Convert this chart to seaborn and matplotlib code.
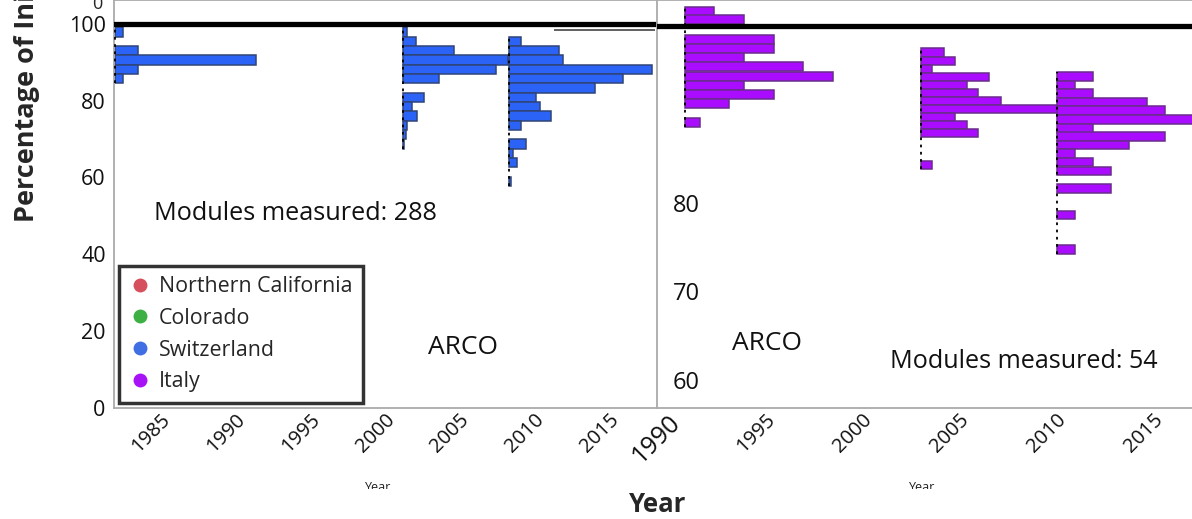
import numpy as np
import pandas as pd
import matplotlib
matplotlib.use("Agg")
import matplotlib.pyplot as plt
import seaborn as sns
from matplotlib.lines import Line2D
from matplotlib.transforms import Bbox, TransformedBbox

# ---------------- data ----------------
# Switzerland (left panel): horizontal histograms placed at measurement year
sw_years = [1982.0, 2001.2, 2008.3]
sw_g1_pct = [97.89, 93.03, 90.60, 88.17, 85.74]
sw_g1_cnt = [1, 3, 19, 3, 1]
sw_g2_pct = [97.89, 95.46, 93.03, 90.60, 88.17, 85.74, 80.88, 78.45, 76.02, 73.59, 71.16, 68.73]
sw_g2_cnt = [3, 8, 31, 64, 57, 22, 13, 6, 9, 3, 2, 1]
sw_g3_pct = [95.46, 93.03, 90.60, 88.17, 85.74, 83.31, 80.88, 78.45, 76.02, 73.59, 68.73, 66.30, 63.87, 59.01]
sw_g3_cnt = [6, 24, 26, 68, 54, 41, 13, 15, 20, 6, 8, 2, 4, 1]

# Italy (right panel)
it_years = [1990.86, 2003.04, 2010.04]
it_g1_pct = [101.67, 100.69, 98.50, 97.43, 96.40, 95.38, 94.31, 93.27, 92.25, 91.22, 89.13]
it_g1_cnt = [2, 4, 6, 6, 4, 8, 10, 4, 6, 3, 1]
it_g2_pct = [97.01, 96.06, 95.16, 94.25, 93.33, 92.45, 91.54, 90.60, 89.72, 88.83, 87.89, 84.29]
it_g2_cnt = [2, 3, 1, 6, 4, 5, 7, 12, 3, 4, 5, 1]
it_g3_pct = [94.28, 93.32, 92.37, 91.43, 90.45, 89.42, 88.44, 87.50, 86.54, 85.59, 84.65, 83.63, 81.62, 78.64, 74.75]
it_g3_cnt = [2, 1, 2, 5, 6, 8, 2, 6, 4, 1, 2, 3, 3, 1, 1]

legend_labels = ["Northern California", "Colorado", "Switzerland", "Italy"]
legend_colors = ["#d64f5c", "#3cb043", "#3f6fe2", "#a812f7"]

left_xticks = [1985, 1990, 1995, 2000, 2005, 2010, 2015]
right_xticks = [1990, 1995, 2000, 2005, 2010, 2015]
left_yticks = [0, 20, 40, 60, 80, 100]
right_yticks = [60, 70, 80]

# ---------------- style ----------------
sns.set_theme(style="white")
plt.rcParams['font.family'] = ['Open Sans', 'Noto Sans', 'DejaVu Sans']

W, H = 1192, 519
fig = plt.figure(figsize=(W / 100, H / 100), dpi=100)
axL = fig.add_axes([114 / W, (H - 407.5) / H, (657 - 114) / W, 407.5 / H])
axR = fig.add_axes([657 / W, (H - 407.5) / H, (1192 - 657) / W, 407.5 / H])

BLUE, BLUE_E = "#2b63f7", "#2f4478"
PURP, PURP_E = "#aa0cff", "#6a2c8c"


def draw_group(ax, base, pcts, cnts, scale, height, color, edge):
    df = pd.DataFrame({"pct": pcts, "cnt": cnts})
    df["len"] = df["cnt"] * scale
    ax.barh(df["pct"], df["len"], left=base, height=height, color=color,
            edgecolor=edge, linewidth=1.1, zorder=2)
    ax.vlines(base, df["pct"].min() - height / 2, df["pct"].max() + height / 2,
              colors="black", linestyles=(0, (1.5, 2.5)), lw=1.3, zorder=3)


draw_group(axL, sw_years[0], sw_g1_pct, sw_g1_cnt, 0.495, 2.43, BLUE, BLUE_E)
draw_group(axL, sw_years[1], sw_g2_pct, sw_g2_cnt, 0.110, 2.43, BLUE, BLUE_E)
draw_group(axL, sw_years[2], sw_g3_pct, sw_g3_cnt, 0.141, 2.43, BLUE, BLUE_E)

draw_group(axR, it_years[0], it_g1_pct, it_g1_cnt, 0.763, 1.02, PURP, PURP_E)
draw_group(axR, it_years[1], it_g2_pct, it_g2_cnt, 0.588, 0.91, PURP, PURP_E)
draw_group(axR, it_years[2], it_g3_pct, it_g3_cnt, 0.928, 0.96, PURP, PURP_E)

# reference lines at 100 %
for ax in (axL, axR):
    ax.axhline(100, color="black", lw=3.8, zorder=4)
axL.hlines(98.4, 2011.3, 2018.1, colors="#444444", lw=1.2, zorder=4)

# axes limits / ticks
axL.set_xlim(1981.9, 2018.22)
axL.set_ylim(0, 106.26)
axR.set_xlim(1989.43, 2017.01)
axR.set_ylim(56.89, 102.94)

GRAY = "#aaaaaa"
for ax in (axL, axR):
    for s in ("left", "bottom", "top"):
        ax.spines[s].set_color(GRAY)
        ax.spines[s].set_linewidth(1.3)
    ax.spines["right"].set_visible(False)
    ax.set_facecolor("white")
    ax.grid(False)

axL.set_xticks(left_xticks)
axL.set_xticks(np.arange(1982.5, 2018.5, 2.5), minor=True)
axL.set_yticks(left_yticks)
axL.set_yticks([101], minor=True)
axL.set_xticklabels([str(v) for v in left_xticks], rotation=45, ha="right",
                    va="top", rotation_mode="anchor")
axL.tick_params(axis="both", which="both", direction="out", color=GRAY,
                width=1.2, labelcolor="#111111")
axL.tick_params(axis="x", which="major", length=5, pad=-3, labelsize=14.5)
axL.tick_params(axis="x", which="minor", length=4)
axL.tick_params(axis="y", which="major", length=5, pad=1, labelsize=15.5)
axL.tick_params(axis="y", which="minor", length=5)

axR.set_xticks(right_xticks)
axR.set_xticks(np.arange(1992.5, 2017, 2.5), minor=True)
axR.set_yticks(right_yticks)
axR.set_yticks([65, 75, 85, 90, 95, 100], minor=True)
axR.set_xticklabels([str(v) for v in right_xticks], rotation=45, ha="right",
                    va="top", rotation_mode="anchor")
axR.tick_params(axis="x", which="both", direction="out", color=GRAY, width=1.2,
                labelsize=14.5, labelcolor="#111111", pad=-3)
axR.tick_params(axis="x", which="major", length=5)
axR.tick_params(axis="x", which="minor", length=4)
axR.tick_params(axis="y", which="both", direction="in", color=GRAY, width=1.2,
                length=6, labelsize=17, labelcolor="#111111")
axR.tick_params(axis="y", which="major", pad=-31)
axR.get_xticklabels()[0].set_fontsize(18)

# annotations
fig.text(295 / W, (H - 213) / H, "Modules measured: 288", fontsize=18.2,
         ha="center", va="center", color="#111111")
fig.text(463 / W, (H - 347) / H, "ARCO", fontsize=19, ha="center",
         va="center", color="#111111")
fig.text(767 / W, (H - 343) / H, "ARCO", fontsize=19, ha="center",
         va="center", color="#111111")
fig.text(1024 / W, (H - 362) / H, "Modules measured: 54", fontsize=18.1,
         ha="center", va="center", color="#111111")

# legend
handles = [Line2D([], [], marker="o", ls="", markersize=10, color=c,
                  markeredgewidth=0) for c in legend_colors]
leg = axL.legend(handles, legend_labels, loc="lower left",
                 bbox_to_anchor=(0.0092, 0.011), borderaxespad=0,
                 fontsize=15.4, frameon=True, fancybox=False,
                 handletextpad=0.35, handlelength=1.0, borderpad=0.5,
                 labelspacing=0.5)
leg.get_frame().set_edgecolor("black")
leg.get_frame().set_linewidth(2.5)
leg.set_zorder(10)

# axis titles
fig.text(27 / W, (H - 222) / H, "Percentage of Initial Power", rotation=90,
         fontsize=19.5, fontweight="bold", ha="center", va="bottom")
fig.text(658 / W, (H - 505) / H, "Year", fontsize=18.5, fontweight="bold",
         ha="center", va="center")
fig.text(97 / W, (H - 4) / H, "0", fontsize=13, ha="center", va="center")

clip = TransformedBbox(Bbox([[0, (H - 489) / H], [1, 1]]), fig.transFigure)
for xp in (378, 922):
    t = fig.text(xp / W, (H - 481) / H, "Year", fontsize=9, ha="center",
                 va="top", color="#222222")
    t.set_clip_box(clip)
    t.set_clip_on(True)

fig.savefig("out.png", dpi=100)
